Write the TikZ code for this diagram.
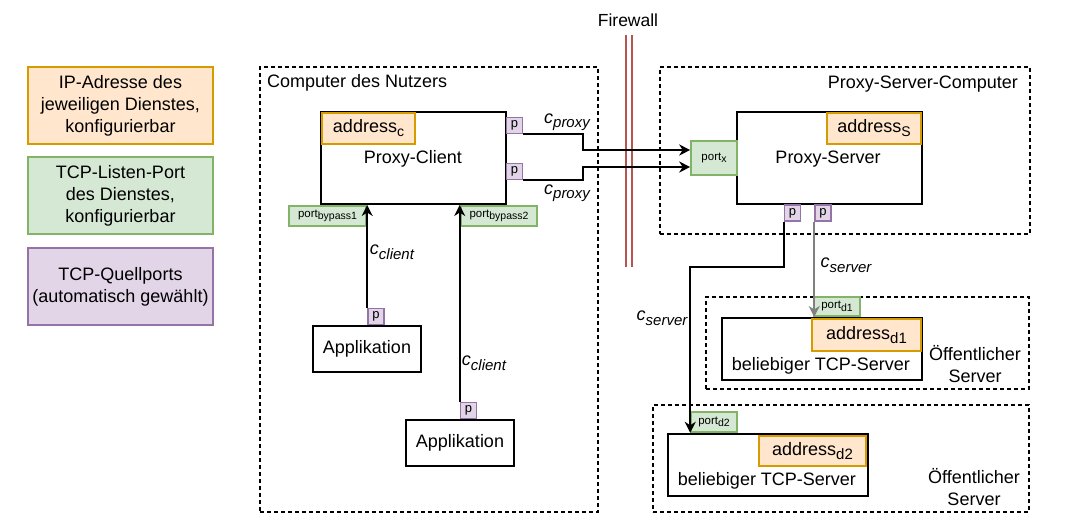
\documentclass[tikz,border=0pt]{standalone}
\usepackage{fontspec}
\setmainfont{Liberation Sans}
\usetikzlibrary{arrows.meta}
\definecolor{addrfill}{HTML}{FFE6CC}
\definecolor{addrline}{HTML}{D79B00}
\definecolor{portfill}{HTML}{D5E8D4}
\definecolor{portline}{HTML}{82B366}
\definecolor{srcfill}{HTML}{E1D5E7}
\definecolor{srcline}{HTML}{9673A6}
\definecolor{fwred}{HTML}{B85450}
\newcommand{\subtxt}[3]{\raisebox{-#2}{\fontsize{#1}{#1}\selectfont #3}}
\begin{document}
\begin{tikzpicture}[x = 1pt, y = -1pt,
  txt/.style = {font = \fontsize{18}{22}\selectfont, inner sep = 0pt, align = center},
  area/.style = {draw, line width = 1.3pt, dash pattern = on 4pt off 3pt, inner sep = 0pt},
  box/.style = {draw, line width = 2pt, fill = white, inner sep = 0pt},
  addr/.style = {draw = addrline, fill = addrfill, line width = 2pt, inner sep = 0pt, font = \fontsize{18}{22}\selectfont},
  lport/.style = {draw = portline, fill = portfill, line width = 1.6pt, inner sep = 0pt, font = \fontsize{11.5}{12}\selectfont},
  sport/.style = {draw = srcline, fill = srcfill, line width = 1.6pt, inner sep = 0pt, minimum width = 16pt, minimum height = 16pt, font = \fontsize{13}{14}\selectfont},
  legend/.style = {line width = 1.8pt, inner sep = 0pt, minimum width = 185pt, minimum height = 77pt, align = center, font = \fontsize{18}{22}\selectfont},
  conn/.style = {line width = 2pt, -{Stealth[length = 11pt, width = 11pt, inset = 3.5pt]}},
  clab/.style = {font = \fontsize{18}{22}\selectfont\itshape, inner sep = 0pt}]
\useasboundingbox (0,0) rectangle (1072,531);
\node[legend, draw = addrline, fill = addrfill] (legaddr) at (120.5,105.5) {IP-Adresse des\\jeweiligen Dienstes,\\konfigurierbar};
\node[legend, draw = portline, fill = portfill] (legport) at (120.5,195.5) {TCP-Listen-Port\\des Dienstes,\\konfigurierbar};
\node[legend, draw = srcline, fill = srcfill] (legsrc) at (120.5,286.5) {TCP-Quellports\\(automatisch gewählt)};
\node[area, minimum width = 338pt, minimum height = 445pt] (nutzer) at (429,289.5) {};
\node[area, minimum width = 370pt, minimum height = 167pt] (srvcomp) at (845,150.5) {};
\node[area, minimum width = 323pt, minimum height = 92pt] (pub1) at (867.5,343) {};
\node[area, minimum width = 376pt, minimum height = 107pt] (pub2) at (841,458.5) {};
\node[txt, anchor = west] (nutzerlab) at (267,83) {Computer des Nutzers};
\node[txt, anchor = east] (srvcomplab) at (1018,84) {Proxy-Server-Computer};
\node[txt] (pub1lab) at (975,364) {Öffentlicher\\Server};
\node[txt] (pub2lab) at (974,487.5) {Öffentlicher\\Server};
\draw[fwred, line width = 1.5pt] (626,35) -- (626,267);
\draw[fwred, line width = 1.5pt] (632,35) -- (632,267);
\node[txt] (fwlab) at (628,20) {\fontsize{17.5}{20}\selectfont Firewall};
\node[box, minimum width = 185pt, minimum height = 92pt] (client) at (413.5,158) {};
\node[addr, minimum width = 93pt, minimum height = 31pt] (addrc) at (368.5,128.5) {address\subtxt{14}{4pt}{c}};
\node[txt] (clientlab) at (413,159) {Proxy-Client};
\node[sport] (pc1) at (514.5,125.5) {p};
\node[sport] (pc2) at (514.5,171.5) {p};
\node[lport, minimum width = 77pt, minimum height = 20pt] (pb1) at (327.5,216) {port\subtxt{10.5}{2.5pt}{bypass1}};
\node[lport, minimum width = 76pt, minimum height = 20pt] (pb2) at (499,216) {port\subtxt{10.5}{2.5pt}{bypass2}};
\node[box, minimum width = 108pt, minimum height = 46pt, txt] (app1) at (367,349) {Applikation};
\node[box, minimum width = 108pt, minimum height = 46pt, txt] (app2) at (460,443) {Applikation};
\node[sport] (pa1) at (376,316.5) {p};
\node[sport] (pa2) at (468.5,410.5) {p};
\node[box, minimum width = 185pt, minimum height = 92pt] (server) at (829.5,158) {};
\node[addr, minimum width = 94pt, minimum height = 31pt] (addrs) at (874,128.5) {address\subtxt{14}{4pt}{S}};
\node[txt] (serverlab) at (828,159) {Proxy-Server};
\node[lport, minimum width = 46pt, minimum height = 34pt] (portx) at (714,158) {port\subtxt{10.5}{2.5pt}{x}};
\node[sport] (ps1) at (792.5,213) {p};
\node[sport] (ps2) at (823,213) {p};
\node[box, minimum width = 200pt, minimum height = 62pt] (tcp1) at (822,349) {};
\node[addr, minimum width = 109pt, minimum height = 32pt] (addrd1) at (866.5,335) {address\subtxt{15}{4pt}{d1}};
\node[txt] (tcp1lab) at (821,366) {beliebiger TCP-Server};
\node[lport, minimum width = 46pt, minimum height = 19pt] (pd1) at (837,306.5) {port\subtxt{10.5}{2.5pt}{d1}};
\node[box, minimum width = 200pt, minimum height = 62pt] (tcp2) at (768,465) {};
\node[addr, minimum width = 107pt, minimum height = 30pt] (addrd2) at (812.5,451) {address\subtxt{15}{4pt}{d2}};
\node[txt] (tcp2lab) at (767,481) {beliebiger TCP-Server};
\node[lport, minimum width = 46pt, minimum height = 20pt] (pd2) at (714,422) {port\subtxt{10.5}{2.5pt}{d2}};
\draw[conn] (pc1.south east) -- ++(60,0) |- ([yshift = 8pt]portx.west);
\draw[conn] (pc2.south east) -- ++(60,0) |- ([yshift = -9pt]portx.west);
\draw[conn] (pa1.north west) -- (pa1.north west |- client.south);
\draw[conn] (pa2.north west) -- (pa2.north west |- client.south);
\draw[conn] (ps1.south west) -- ++(0,45) -| (pd2.south west);
\draw[conn, gray] (ps2.south west) -- (ps2.south west |- tcp1.north);
\node[clab] (cproxy1) at (567,122) {c\subtxt{15}{4.5pt}{proxy}};
\node[clab] (cproxy2) at (567,193) {c\subtxt{15}{4.5pt}{proxy}};
\node[clab] (cclient1) at (392,252) {c\subtxt{15}{4.5pt}{client}};
\node[clab] (cclient2) at (484,363) {c\subtxt{15}{4.5pt}{client}};
\node[clab] (cserver1) at (846,265) {c\subtxt{15}{4.5pt}{server}};
\node[clab] (cserver2) at (662,318) {c\subtxt{15}{4.5pt}{server}};
\end{tikzpicture}
\end{document}
